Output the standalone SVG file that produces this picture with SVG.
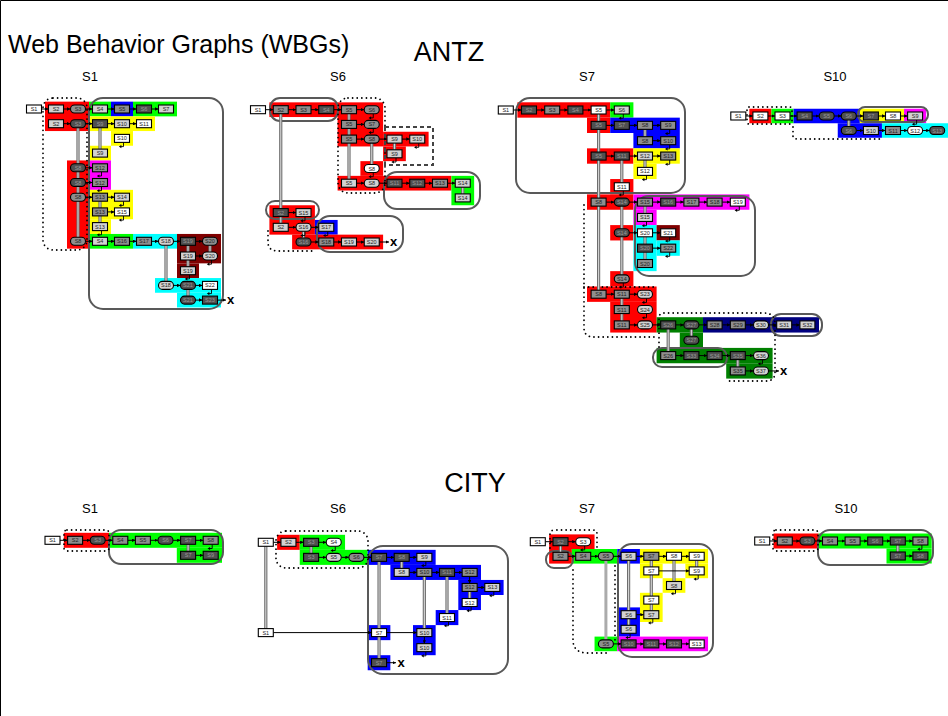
<svg xmlns="http://www.w3.org/2000/svg" width="948" height="716" viewBox="0 0 948 716">
<style>
.n use{stroke:#000;stroke-width:1.1}
.w{fill:#fff}.l{fill:#d2d2d2}.m{fill:#8e8e8e}.d{fill:#505050}
.n text{font-family:'Liberation Sans',Arial,sans-serif;font-size:5.5px;text-anchor:middle;fill:#222}
.n.d text{fill:#9a9a9a}
.e{fill:none;stroke:#000;stroke-width:1;marker-end:url(#ah)}
.v{fill:none;stroke:#6e6e6e;stroke-width:3.2}
.vi{fill:none;stroke:#d6d6d6;stroke-width:1.1}
.o{fill:none;stroke:#595959;stroke-width:2}
.dt{fill:none;stroke:#000;stroke-width:1.8;stroke-dasharray:0.01 4.6;stroke-linecap:round}
.ti{font-family:'Liberation Sans',Arial,sans-serif;fill:#000}
.x{font-family:'Liberation Sans',Arial,sans-serif;font-weight:bold;font-size:13px}
.R{fill:#f00}.G{fill:#0f0}.B{fill:#00f}.Y{fill:#ff0}.M{fill:#f0f}.C{fill:#0ff}.DR{fill:#800000}.DG{fill:#008000}.NV{fill:#000080}
</style>
<defs>
<rect id="b" x="-7.5" y="-4" width="15" height="8"/>
<rect id="e" x="-7.5" y="-4" width="15" height="8" rx="4"/>
<g id="rt"><path d="M1.5 4V8.2H-1" fill="none" stroke="#000" stroke-width="0.9"/><path d="M-3.2 8.2L-0.6 6.6V9.8Z" fill="#000"/></g>
<marker id="ah" viewBox="0 0 6 6" refX="6" refY="3" markerWidth="3.5" markerHeight="3.5" orient="auto" markerUnits="userSpaceOnUse"><path d="M0 0L6 3L0 6Z" fill="#000"/></marker>
</defs>
<rect x="0" y="0" width="948" height="716" fill="#fff"/>
<path d="M0.5 716V0.5H948" fill="none" stroke="#000"/>
<text class="ti" x="8" y="53" font-size="25">Web Behavior Graphs (WBGs)</text>
<text class="ti" x="449" y="61" font-size="27" text-anchor="middle">ANTZ</text>
<text class="ti" x="475" y="492" font-size="27" text-anchor="middle">CITY</text>
<g class="ti" font-size="13" text-anchor="middle">
<text x="90" y="81">S1</text><text x="338" y="81">S6</text><text x="587" y="81">S7</text><text x="835" y="81">S10</text>
<text x="90" y="513">S1</text><text x="338" y="513">S6</text><text x="587" y="513">S7</text><text x="846" y="513">S10</text>
</g>
<g id="backgrounds">
<rect class="R" x="45" y="101.65" width="44" height="29.4"/>
<rect class="R" x="67" y="160.45" width="22" height="88.2"/>
<rect class="G" x="89" y="101.65" width="22" height="14.7"/>
<rect class="B" x="111" y="101.65" width="22" height="14.7"/>
<rect class="G" x="133" y="101.65" width="44" height="14.7"/>
<rect class="Y" x="89" y="116.35" width="66" height="14.7"/>
<rect class="Y" x="111" y="131.05" width="22" height="14.7"/>
<rect class="Y" x="89" y="145.75" width="22" height="14.7"/>
<rect class="M" x="89" y="160.45" width="22" height="29.4"/>
<rect class="Y" x="89" y="189.85" width="44" height="29.4"/>
<rect class="Y" x="89" y="219.25" width="22" height="14.7"/>
<rect class="G" x="89" y="233.95" width="44" height="14.7"/>
<rect class="C" x="133" y="233.95" width="44" height="14.7"/>
<rect class="DR" x="177" y="233.95" width="44" height="29.4"/>
<rect class="DR" x="177" y="263.35" width="22" height="14.7"/>
<rect class="C" x="155" y="278.05" width="66" height="14.7"/>
<rect class="C" x="177" y="292.75" width="44" height="14.7"/>

<rect class="R" x="269.4" y="102.35" width="68.25" height="14.7"/>
<rect class="R" x="337.6" y="102.35" width="45.5" height="44.1"/>
<rect class="R" x="383.1" y="131.75" width="45.5" height="14.7"/>
<rect class="R" x="383.1" y="146.45" width="22.75" height="14.7"/>
<rect class="R" x="360.4" y="161.15" width="22.75" height="14.7"/>
<rect class="R" x="337.6" y="175.85" width="113.75" height="14.7"/>
<rect class="G" x="451.4" y="175.85" width="22.75" height="29.4"/>
<rect class="R" x="269.4" y="205.25" width="45.5" height="29.4"/>
<rect class="B" x="314.9" y="219.95" width="22.75" height="14.7"/>
<rect class="R" x="292.1" y="234.65" width="91" height="14.7"/>

<rect class="R" x="517.4" y="102.3" width="92.8" height="15.35"/>
<rect class="G" x="610.2" y="102.3" width="23.2" height="15.35"/>
<rect class="R" x="587" y="117.65" width="23.2" height="15.35"/>
<rect class="B" x="610.2" y="117.65" width="69.6" height="15.35"/>
<rect class="B" x="633.4" y="133" width="46.4" height="15.35"/>
<rect class="R" x="587" y="148.35" width="46.4" height="15.35"/>
<rect class="Y" x="633.4" y="148.35" width="46.4" height="15.35"/>
<rect class="Y" x="633.4" y="163.7" width="23.2" height="15.35"/>
<rect class="R" x="610.2" y="179.05" width="23.2" height="15.35"/>
<rect class="R" x="587" y="194.4" width="46.4" height="15.35"/>
<rect class="M" x="633.4" y="194.4" width="116" height="15.35"/>
<rect class="M" x="633.4" y="209.75" width="23.2" height="15.35"/>
<rect class="R" x="610.2" y="225.1" width="23.2" height="15.35"/>
<rect class="C" x="633.4" y="225.1" width="23.2" height="46.05"/>
<rect class="DR" x="656.6" y="225.1" width="23.2" height="15.35"/>
<rect class="C" x="656.6" y="240.45" width="23.2" height="15.35"/>
<rect class="R" x="610.2" y="271.15" width="23.2" height="15.35"/>
<rect class="R" x="587" y="286.5" width="69.6" height="15.35"/>
<rect class="R" x="610.2" y="301.85" width="46.4" height="30.7"/>
<rect class="DG" x="656.6" y="317.2" width="46.4" height="15.35"/>
<rect class="NV" x="703" y="317.2" width="116" height="15.35"/>
<rect class="DG" x="679.8" y="332.55" width="23.2" height="15.35"/>
<rect class="DG" x="656.6" y="347.9" width="116" height="15.35"/>
<rect class="DG" x="726.2" y="363.25" width="46.4" height="15.35"/>

<rect class="R" x="749.35" y="108.75" width="22.1" height="14.5"/>
<rect class="G" x="771.45" y="108.75" width="22.1" height="14.5"/>
<rect class="B" x="793.55" y="108.75" width="66.3" height="14.5"/>
<rect class="Y" x="859.85" y="108.75" width="44.2" height="14.5"/>
<rect class="M" x="904.05" y="108.75" width="22.1" height="14.5"/>
<rect class="B" x="837.75" y="123.25" width="44.2" height="14.5"/>
<rect class="C" x="881.95" y="123.25" width="66.05" height="14.5"/>

<rect class="R" x="63.8" y="532.8" width="45.2" height="15"/>
<rect class="G" x="109" y="532.8" width="113" height="15"/>
<rect class="G" x="176.8" y="547.8" width="45.2" height="15"/>

<rect class="R" x="277.1" y="534.8" width="22.65" height="15.05"/>
<rect class="G" x="299.75" y="534.8" width="45.3" height="15.05"/>
<rect class="G" x="299.75" y="549.85" width="67.95" height="15.05"/>
<rect class="B" x="367.7" y="549.85" width="67.95" height="15.05"/>
<rect class="B" x="390.4" y="564.9" width="90.6" height="15.05"/>
<rect class="B" x="458.3" y="579.95" width="45.3" height="15.05"/>
<rect class="B" x="458.3" y="595" width="22.65" height="15.05"/>
<rect class="B" x="435.7" y="610.05" width="22.65" height="15.05"/>
<rect class="B" x="367.7" y="625.1" width="22.65" height="15.05"/>
<rect class="B" x="413" y="625.1" width="22.65" height="30.1"/>
<rect class="B" x="367.7" y="655.2" width="22.65" height="15.05"/>

<rect class="R" x="549.15" y="534.4" width="45.4" height="14.6"/>
<rect class="R" x="549.15" y="549" width="22.7" height="14.6"/>
<rect class="G" x="571.85" y="549" width="45.4" height="14.6"/>
<rect class="B" x="617.25" y="549" width="22.7" height="14.6"/>
<rect class="Y" x="639.95" y="549" width="68.1" height="14.6"/>
<rect class="Y" x="639.95" y="563.6" width="22.7" height="14.6"/>
<rect class="Y" x="685.35" y="563.6" width="22.7" height="14.6"/>
<rect class="Y" x="662.65" y="578.2" width="22.7" height="14.6"/>
<rect class="Y" x="639.95" y="592.8" width="22.7" height="29.2"/>
<rect class="B" x="617.25" y="607.4" width="22.7" height="29.2"/>
<rect class="G" x="594.55" y="636.6" width="22.7" height="14.6"/>
<rect class="M" x="617.25" y="636.6" width="90.8" height="14.6"/>

<rect class="R" x="773.5" y="533.5" width="45.2" height="15"/>
<rect class="G" x="818.7" y="533.5" width="113" height="15"/>
<rect class="G" x="886.5" y="548.5" width="45.2" height="15"/>
</g>
<g id="outlines">
<rect class="o" x="89" y="98" width="134" height="211" rx="14"/>
<rect class="o" x="270" y="98" width="68" height="23" rx="10"/>
<rect class="o" x="266" y="201" width="53" height="18" rx="9"/>
<rect class="o" x="317" y="216" width="86" height="36" rx="13"/>
<rect class="o" x="384" y="172" width="96" height="37" rx="13"/>
<rect class="o" x="516" y="98" width="169" height="95" rx="14"/>
<rect class="o" x="635" y="196" width="120" height="80" rx="14"/>
<rect class="o" x="653" y="348" width="74" height="19" rx="9"/>
<rect class="o" x="771" y="314" width="51" height="22" rx="10"/>
<rect class="o" x="858" y="107" width="70" height="15" rx="7"/>
<rect class="o" x="109" y="530" width="114" height="34" rx="12"/>
<rect class="o" x="368" y="546" width="140" height="128" rx="15"/>
<rect class="o" x="618" y="544" width="95" height="113" rx="14"/>
<rect class="o" x="546" y="551" width="27" height="17" rx="8"/>
<rect class="o" x="818" y="530" width="115" height="35" rx="12"/>
<rect class="dt" x="43" y="98" width="44" height="152" rx="10"/>
<rect class="dt" x="338" y="98" width="47" height="95" rx="10"/>
<rect x="385" y="127" width="48" height="38" fill="none" stroke="#444" stroke-width="2" stroke-dasharray="4 3"/>
<path class="dt" d="M268 231V242Q268 251 278 251H313"/>
<path class="dt" d="M584 205V328Q584 337 594 337H656"/>
<path class="dt" d="M584 287H657"/>
<path class="dt" d="M659 347V318Q659 313 664 313H764Q775 313 775 324V372Q775 381 766 381H727"/>
<rect class="dt" x="747" y="107" width="45" height="17" rx="2"/>
<path class="dt" d="M793 127V136Q793 139 797 139H882"/>
<rect class="dt" x="64" y="530" width="45" height="21" rx="3"/>
<rect class="dt" x="276" y="531" width="92" height="37" rx="10"/>
<path class="dt" d="M550 548V534Q550 530 555 530H593Q597 530 597 534V547"/>
<path class="dt" d="M573 570V640Q573 653 588 653H610"/>
<path class="dt" d="M615 566V640"/>
<rect class="dt" x="773" y="530" width="45" height="21" rx="3"/>
</g>
<g id="connectors">
<path class="v" d="M78 127.7V237.3M100 127.7V149.1M100 201.2V222.6M166 245.3V281.4M188 245.3V266.7M188 289.4V296.1M210 245.3V252M280.75 113.7V208.6M280.75 216.6V223.3M349 113.7V179.2M371.75 143.1V164.5M394.5 143.1V149.8M303.5 231.3V238M462.75 187.2V193.9M598.6 114V290.2M621.8 160V182.8M621.8 206.1V274.9M621.8 298.2V320.9M645 129.4V136.7M645 160V167.4M645 206.1V213.5M645 236.8V259.5M668.2 328.9V351.6M691.4 328.9V336.3M737.8 359.6V367M848.8 120V126.5M188.1 544.3V551.3M265.8 546.3V628.6M311.1 546.3V553.4M401.7 561.4V568.4M379.05 561.4V658.7M424.35 576.4V628.6M447 576.4V613.6M469.65 591.5V598.5M560.5 545.7V552.3M628.6 560.3V610.7M628.6 618.7V625.3M651.3 560.3V596.1M651.3 604.1V610.7M674 560.3V581.5M696.7 560.3V566.9M897.8 545V552"/>
<path class="vi" d="M78 127.7V237.3M100 127.7V149.1M100 201.2V222.6M166 245.3V281.4M188 245.3V266.7M188 289.4V296.1M210 245.3V252M280.75 113.7V208.6M280.75 216.6V223.3M349 113.7V179.2M371.75 143.1V164.5M394.5 143.1V149.8M303.5 231.3V238M462.75 187.2V193.9M598.6 114V290.2M621.8 160V182.8M621.8 206.1V274.9M621.8 298.2V320.9M645 129.4V136.7M645 160V167.4M645 206.1V213.5M645 236.8V259.5M668.2 328.9V351.6M691.4 328.9V336.3M737.8 359.6V367M848.8 120V126.5M188.1 544.3V551.3M265.8 546.3V628.6M311.1 546.3V553.4M401.7 561.4V568.4M379.05 561.4V658.7M424.35 576.4V628.6M447 576.4V613.6M469.65 591.5V598.5M560.5 545.7V552.3M628.6 560.3V610.7M628.6 618.7V625.3M651.3 560.3V596.1M651.3 604.1V610.7M674 560.3V581.5M696.7 560.3V566.9M897.8 545V552"/>
<path d="M605.9 560.3V639.9" fill="none" stroke="#ababab" stroke-width="3"/>
<path class="e" d="M41.5 109H48.5"/><path class="e" d="M63.5 109H70.5"/><path class="e" d="M85.5 109H92.5"/><path class="e" d="M107.5 109H114.5"/><path class="e" d="M129.5 109H136.5"/><path class="e" d="M151.5 109H158.5"/>
<path class="e" d="M63.5 123.7H70.5"/><path class="e" d="M85.5 123.7H92.5"/><path class="e" d="M107.5 123.7H114.5"/><path class="e" d="M129.5 123.7H136.5"/>
<path class="e" d="M85.5 167.8H92.5"/><path class="e" d="M85.5 182.5H92.5"/><path class="e" d="M85.5 197.2H92.5"/><path class="e" d="M107.5 197.2H114.5"/><path class="e" d="M107.5 211.9H114.5"/>
<path class="e" d="M85.5 241.3H92.5"/><path class="e" d="M107.5 241.3H114.5"/><path class="e" d="M129.5 241.3H136.5"/><path class="e" d="M151.5 241.3H158.5"/><path class="e" d="M173.5 241.3H180.5"/><path class="e" d="M195.5 241.3H202.5"/>
<path class="e" d="M195.5 256H202.5"/><path class="e" d="M173.5 285.4H180.5"/><path class="e" d="M195.5 285.4H202.5"/><path class="e" d="M195.5 300.1H202.5"/><path class="e" d="M217.5 300.1H226"/>
<path class="e" d="M265.5 109.7H273.25"/><path class="e" d="M288.25 109.7H296"/><path class="e" d="M311 109.7H318.75"/><path class="e" d="M333.75 109.7H341.5"/><path class="e" d="M356.5 109.7H364.25"/>
<path class="e" d="M356.5 124.4H364.25"/><path class="e" d="M356.5 139.1H364.25"/><path class="e" d="M379.25 139.1H387"/><path class="e" d="M402 139.1H409.75"/>
<path class="e" d="M356.5 183.2H364.25"/><path class="e" d="M379.25 183.2H387"/><path class="e" d="M402 183.2H409.75"/><path class="e" d="M424.75 183.2H432.5"/><path class="e" d="M447.5 183.2H455.25"/>
<path class="e" d="M288.25 212.6H296"/><path class="e" d="M288.25 227.3H296"/><path class="e" d="M311 227.3H318.75"/>
<path class="e" d="M311 242H318.75"/><path class="e" d="M333.75 242H341.5"/><path class="e" d="M356.5 242H364.25"/><path class="e" d="M379.25 242H389"/>
<path class="e" d="M513.3 110H521.5"/><path class="e" d="M536.5 110H544.7"/><path class="e" d="M559.7 110H567.9"/><path class="e" d="M582.9 110H591.1"/><path class="e" d="M606.1 110H614.3"/>
<path class="e" d="M606.1 125.35H614.3"/><path class="e" d="M629.3 125.35H637.5"/><path class="e" d="M652.5 125.35H660.7"/><path class="e" d="M652.5 140.7H660.7"/>
<path class="e" d="M606.1 156.05H614.3"/><path class="e" d="M629.3 156.05H637.5"/><path class="e" d="M652.5 156.05H660.7"/>
<path class="e" d="M606.1 202.1H614.3"/><path class="e" d="M629.3 202.1H637.5"/><path class="e" d="M652.5 202.1H660.7"/><path class="e" d="M675.7 202.1H683.9"/><path class="e" d="M698.9 202.1H707.1"/><path class="e" d="M722.1 202.1H730.3"/>
<path class="e" d="M629.3 232.8H637.5"/><path class="e" d="M652.5 232.8H660.7"/><path class="e" d="M652.5 248.15H660.7"/>
<path class="e" d="M606.1 294.2H614.3"/><path class="e" d="M629.3 294.2H637.5"/>
<path class="e" d="M629.3 324.9H637.5"/><path class="e" d="M652.5 324.9H660.7"/><path class="e" d="M675.7 324.9H683.9"/><path class="e" d="M698.9 324.9H707.1"/><path class="e" d="M722.1 324.9H730.3"/><path class="e" d="M745.3 324.9H753.5"/><path class="e" d="M768.5 324.9H776.7"/><path class="e" d="M791.7 324.9H799.9"/>
<path class="e" d="M675.7 355.6H683.9"/><path class="e" d="M698.9 355.6H707.1"/><path class="e" d="M722.1 355.6H730.3"/><path class="e" d="M745.3 355.6H753.5"/>
<path class="e" d="M745.3 370.95H753.5"/><path class="e" d="M768.5 370.95H779"/>
<path class="e" d="M745.8 116H752.9"/><path class="e" d="M767.9 116H775"/><path class="e" d="M790 116H797.1"/><path class="e" d="M812.1 116H819.2"/><path class="e" d="M834.2 116H841.3"/><path class="e" d="M856.3 116H863.4"/><path class="e" d="M878.4 116H885.5"/><path class="e" d="M900.5 116H907.6"/>
<path class="e" d="M856.3 130.5H863.4"/><path class="e" d="M878.4 130.5H885.5"/><path class="e" d="M900.5 130.5H907.6"/><path class="e" d="M922.6 130.5H929.7"/>
<path class="e" d="M60 540.3H67.6"/><path class="e" d="M82.6 540.3H90.2"/><path class="e" d="M105.2 540.3H112.8"/><path class="e" d="M127.8 540.3H135.4"/><path class="e" d="M150.4 540.3H158"/><path class="e" d="M173 540.3H180.6"/><path class="e" d="M195.6 540.3H203.2"/><path class="e" d="M195.6 555.3H203.2"/>
<path class="e" d="M273.3 542.3H280.95"/><path class="e" d="M295.95 542.3H303.6"/><path class="e" d="M318.6 542.3H326.25"/>
<path class="e" d="M318.6 557.35H326.25"/><path class="e" d="M341.25 557.35H348.9"/><path class="e" d="M363.9 557.35H371.55"/><path class="e" d="M386.55 557.35H394.2"/><path class="e" d="M409.2 557.35H416.85"/>
<path class="e" d="M409.2 572.4H416.85"/><path class="e" d="M431.85 572.4H439.5"/><path class="e" d="M454.5 572.4H462.15"/><path class="e" d="M477.15 587.45H484.8"/>
<path class="e" d="M273.3 632.6H371.55"/><path class="e" d="M386.55 632.6H416.85"/><path class="e" d="M386.55 662.7H396"/>
<path class="e" d="M469.65 576.4V583.45"/><path class="e" d="M424.35 636.6V643.65"/>
<path class="e" d="M545.3 541.7H553"/><path class="e" d="M568 541.7H575.7"/>
<path class="e" d="M568 556.3H575.7"/><path class="e" d="M590.7 556.3H598.4"/><path class="e" d="M613.4 556.3H621.1"/><path class="e" d="M636.1 556.3H643.8"/><path class="e" d="M658.8 556.3H666.5"/><path class="e" d="M681.5 556.3H689.2"/>
<path class="e" d="M658.8 570.9H689.2"/><path class="e" d="M636.1 614.7H643.8"/>
<path class="e" d="M613.4 643.9H621.1"/><path class="e" d="M636.1 643.9H643.8"/><path class="e" d="M658.8 643.9H666.5"/><path class="e" d="M681.5 643.9H689.2"/>
<path class="e" d="M769.7 541H777.3"/><path class="e" d="M792.3 541H799.9"/><path class="e" d="M814.9 541H822.5"/><path class="e" d="M837.5 541H845.1"/><path class="e" d="M860.1 541H867.7"/><path class="e" d="M882.7 541H890.3"/><path class="e" d="M905.3 541H912.9"/><path class="e" d="M905.3 556H912.9"/>
<use href="#rt" x="122" y="138.4"/><use href="#rt" x="100" y="167.8"/><use href="#rt" x="100" y="182.5"/><use href="#rt" x="122" y="197.2"/><use href="#rt" x="122" y="211.9"/><use href="#rt" x="100" y="226.6"/><use href="#rt" x="210" y="256"/><use href="#rt" x="188" y="270.7"/><use href="#rt" x="210" y="285.4"/>
<use href="#rt" x="371.75" y="109.7"/><use href="#rt" x="371.75" y="124.4"/><use href="#rt" x="417.25" y="139.1"/><use href="#rt" x="394.5" y="153.8"/><use href="#rt" x="371.75" y="168.5"/><use href="#rt" x="303.5" y="212.6"/><use href="#rt" x="303.5" y="227.3"/><use href="#rt" x="326.25" y="227.3"/>
<use href="#rt" x="621.8" y="110"/><use href="#rt" x="668.2" y="125.35"/><use href="#rt" x="668.2" y="140.7"/><use href="#rt" x="668.2" y="156.05"/><use href="#rt" x="645" y="171.4"/><use href="#rt" x="621.8" y="186.75"/><use href="#rt" x="737.8" y="202.1"/><use href="#rt" x="645" y="217.45"/><use href="#rt" x="668.2" y="232.8"/><use href="#rt" x="668.2" y="248.15"/><use href="#rt" x="621.8" y="278.85"/><use href="#rt" x="645" y="294.2"/><use href="#rt" x="645" y="309.55"/><use href="#rt" x="761" y="355.6"/>
<use href="#rt" x="915.1" y="116"/><use href="#rt" x="210.7" y="540.3"/>
<use href="#rt" x="333.75" y="542.3"/><use href="#rt" x="424.35" y="557.35"/><use href="#rt" x="492.3" y="587.45"/><use href="#rt" x="469.65" y="602.5"/><use href="#rt" x="447" y="617.55"/><use href="#rt" x="424.35" y="647.65"/>
<use href="#rt" x="583.2" y="541.7"/><use href="#rt" x="696.7" y="570.9"/><use href="#rt" x="674" y="585.5"/><use href="#rt" x="651.3" y="614.7"/><use href="#rt" x="628.6" y="629.3"/><use href="#rt" x="920.4" y="541"/>
</g>
<g class="x"><text x="227" y="304">x</text><text x="390" y="246">x</text><text x="780" y="375">x</text><text x="397.5" y="666.5">x</text></g>
<g id="antz-s1">
<g id="a0s1" class="n w" transform="translate(34 109)"><use href="#b"/><text y="2">S1</text></g>
<g id="a0s2" class="n l" transform="translate(56 109)"><use href="#b"/><text y="2">S2</text></g>
<g id="a0s3" class="n m" transform="translate(78 109)"><use href="#e"/><text y="2">S3</text></g>
<g id="a0s4" class="n l" transform="translate(100 109)"><use href="#b"/><text y="2">S4</text></g>
<g id="a0s5" class="n m" transform="translate(122 109)"><use href="#b"/><text y="2">S5</text></g>
<g id="a0s6" class="n d" transform="translate(144 109)"><use href="#b"/><text y="2">S6</text></g>
<g id="a0s7" class="n l" transform="translate(166 109)"><use href="#b"/><text y="2">S7</text></g>
<g id="a1s2" class="n l" transform="translate(56 123.7)"><use href="#b"/><text y="2">S2</text></g>
<g id="a1s3" class="n d" transform="translate(78 123.7)"><use href="#e"/><text y="2">S3</text></g>
<g id="a1s9" class="n d" transform="translate(100 123.7)"><use href="#b"/><text y="2">S9</text></g>
<g id="a1s10" class="n l" transform="translate(122 123.7)"><use href="#b"/><text y="2">S10</text></g>
<g id="a1s11" class="n w" transform="translate(144 123.7)"><use href="#b"/><text y="2">S11</text></g>
<g id="a2s10" class="n w" transform="translate(122 138.4)"><use href="#b"/><text y="2">S10</text></g>
<g id="a3s9" class="n l" transform="translate(100 153.1)"><use href="#b"/><text y="2">S9</text></g>
<g id="a4s8" class="n d" transform="translate(78 167.8)"><use href="#e"/><text y="2">S8</text></g>
<g id="a4s12" class="n m" transform="translate(100 167.8)"><use href="#b"/><text y="2">S12</text></g>
<g id="a5s8" class="n d" transform="translate(78 182.5)"><use href="#e"/><text y="2">S8</text></g>
<g id="a5s12" class="n m" transform="translate(100 182.5)"><use href="#b"/><text y="2">S12</text></g>
<g id="a6s8" class="n m" transform="translate(78 197.2)"><use href="#e"/><text y="2">S8</text></g>
<g id="a6s13" class="n m" transform="translate(100 197.2)"><use href="#b"/><text y="2">S13</text></g>
<g id="a6s14" class="n l" transform="translate(122 197.2)"><use href="#b"/><text y="2">S14</text></g>
<g id="a7s13" class="n m" transform="translate(100 211.9)"><use href="#b"/><text y="2">S13</text></g>
<g id="a7s15" class="n w" transform="translate(122 211.9)"><use href="#b"/><text y="2">S15</text></g>
<g id="a8s13" class="n l" transform="translate(100 226.6)"><use href="#b"/><text y="2">S13</text></g>
<g id="a9s8" class="n m" transform="translate(78 241.3)"><use href="#e"/><text y="2">S8</text></g>
<g id="a9s4" class="n l" transform="translate(100 241.3)"><use href="#b"/><text y="2">S4</text></g>
<g id="a9s16" class="n m" transform="translate(122 241.3)"><use href="#b"/><text y="2">S16</text></g>
<g id="a9s17" class="n m" transform="translate(144 241.3)"><use href="#b"/><text y="2">S17</text></g>
<g id="a9s18" class="n l" transform="translate(166 241.3)"><use href="#e"/><text y="2">S18</text></g>
<g id="a9s19" class="n d" transform="translate(188 241.3)"><use href="#b"/><text y="2">S19</text></g>
<g id="a9s20" class="n m" transform="translate(210 241.3)"><use href="#e"/><text y="2">S20</text></g>
<g id="a10s19" class="n l" transform="translate(188 256)"><use href="#b"/><text y="2">S19</text></g>
<g id="a10s20" class="n l" transform="translate(210 256)"><use href="#e"/><text y="2">S20</text></g>
<g id="a11s19" class="n l" transform="translate(188 270.7)"><use href="#b"/><text y="2">S19</text></g>
<g id="a12s18" class="n l" transform="translate(166 285.4)"><use href="#e"/><text y="2">S18</text></g>
<g id="a12s21" class="n d" transform="translate(188 285.4)"><use href="#e"/><text y="2">S21</text></g>
<g id="a12s22" class="n w" transform="translate(210 285.4)"><use href="#b"/><text y="2">S22</text></g>
<g id="a13s21" class="n d" transform="translate(188 300.1)"><use href="#e"/><text y="2">S21</text></g>
<g id="a13s23" class="n d" transform="translate(210 300.1)"><use href="#b"/><text y="2">S23</text></g>
</g>
<g id="antz-s6">
<g id="b0s1" class="n w" transform="translate(258 109.7)"><use href="#b"/><text y="2">S1</text></g>
<g id="b0s2" class="n m" transform="translate(280.75 109.7)"><use href="#b"/><text y="2">S2</text></g>
<g id="b0s3" class="n m" transform="translate(303.5 109.7)"><use href="#b"/><text y="2">S3</text></g>
<g id="b0s4" class="n d" transform="translate(326.25 109.7)"><use href="#b"/><text y="2">S4</text></g>
<g id="b0s5" class="n m" transform="translate(349 109.7)"><use href="#b"/><text y="2">S5</text></g>
<g id="b0s6" class="n m" transform="translate(371.75 109.7)"><use href="#e"/><text y="2">S6</text></g>
<g id="b1s5" class="n m" transform="translate(349 124.4)"><use href="#b"/><text y="2">S5</text></g>
<g id="b1s7" class="n m" transform="translate(371.75 124.4)"><use href="#e"/><text y="2">S7</text></g>
<g id="b2s5" class="n m" transform="translate(349 139.1)"><use href="#b"/><text y="2">S5</text></g>
<g id="b2s8" class="n m" transform="translate(371.75 139.1)"><use href="#e"/><text y="2">S8</text></g>
<g id="b2s9" class="n l" transform="translate(394.5 139.1)"><use href="#b"/><text y="2">S9</text></g>
<g id="b2s10" class="n l" transform="translate(417.25 139.1)"><use href="#b"/><text y="2">S10</text></g>
<g id="b3s9" class="n l" transform="translate(394.5 153.8)"><use href="#b"/><text y="2">S9</text></g>
<g id="b4s8" class="n w" transform="translate(371.75 168.5)"><use href="#e"/><text y="2">S8</text></g>
<g id="b5s5" class="n l" transform="translate(349 183.2)"><use href="#b"/><text y="2">S5</text></g>
<g id="b5s8" class="n l" transform="translate(371.75 183.2)"><use href="#e"/><text y="2">S8</text></g>
<g id="b5s11" class="n d" transform="translate(394.5 183.2)"><use href="#b"/><text y="2">S11</text></g>
<g id="b5s12" class="n d" transform="translate(417.25 183.2)"><use href="#b"/><text y="2">S12</text></g>
<g id="b5s13" class="n m" transform="translate(440 183.2)"><use href="#b"/><text y="2">S13</text></g>
<g id="b5s14" class="n l" transform="translate(462.75 183.2)"><use href="#b"/><text y="2">S14</text></g>
<g id="b6s14" class="n l" transform="translate(462.75 197.9)"><use href="#b"/><text y="2">S14</text></g>
<g id="b7s2" class="n d" transform="translate(280.75 212.6)"><use href="#b"/><text y="2">S2</text></g>
<g id="b7s15" class="n l" transform="translate(303.5 212.6)"><use href="#b"/><text y="2">S15</text></g>
<g id="b8s2" class="n l" transform="translate(280.75 227.3)"><use href="#b"/><text y="2">S2</text></g>
<g id="b8s16" class="n l" transform="translate(303.5 227.3)"><use href="#e"/><text y="2">S16</text></g>
<g id="b8s17" class="n l" transform="translate(326.25 227.3)"><use href="#b"/><text y="2">S17</text></g>
<g id="b9s16" class="n d" transform="translate(303.5 242)"><use href="#e"/><text y="2">S16</text></g>
<g id="b9s18" class="n m" transform="translate(326.25 242)"><use href="#b"/><text y="2">S18</text></g>
<g id="b9s19" class="n l" transform="translate(349 242)"><use href="#b"/><text y="2">S19</text></g>
<g id="b9s20" class="n l" transform="translate(371.75 242)"><use href="#b"/><text y="2">S20</text></g>
</g>
<g id="antz-s7">
<g id="c0s1" class="n w" transform="translate(505.8 110)"><use href="#b"/><text y="2">S1</text></g>
<g id="c0s2" class="n d" transform="translate(529 110)"><use href="#b"/><text y="2">S2</text></g>
<g id="c0s3" class="n m" transform="translate(552.2 110)"><use href="#b"/><text y="2">S3</text></g>
<g id="c0s4" class="n d" transform="translate(575.4 110)"><use href="#b"/><text y="2">S4</text></g>
<g id="c0s5" class="n w" transform="translate(598.6 110)"><use href="#b"/><text y="2">S5</text></g>
<g id="c0s6" class="n l" transform="translate(621.8 110)"><use href="#b"/><text y="2">S6</text></g>
<g id="c1s5" class="n d" transform="translate(598.6 125.35)"><use href="#b"/><text y="2">S5</text></g>
<g id="c1s7" class="n d" transform="translate(621.8 125.35)"><use href="#b"/><text y="2">S7</text></g>
<g id="c1s8" class="n m" transform="translate(645 125.35)"><use href="#b"/><text y="2">S8</text></g>
<g id="c1s9" class="n m" transform="translate(668.2 125.35)"><use href="#b"/><text y="2">S9</text></g>
<g id="c2s8" class="n m" transform="translate(645 140.7)"><use href="#b"/><text y="2">S8</text></g>
<g id="c2s10" class="n m" transform="translate(668.2 140.7)"><use href="#b"/><text y="2">S10</text></g>
<g id="c3s5" class="n d" transform="translate(598.6 156.05)"><use href="#b"/><text y="2">S5</text></g>
<g id="c3s11" class="n d" transform="translate(621.8 156.05)"><use href="#b"/><text y="2">S11</text></g>
<g id="c3s12" class="n l" transform="translate(645 156.05)"><use href="#b"/><text y="2">S12</text></g>
<g id="c3s13" class="n m" transform="translate(668.2 156.05)"><use href="#b"/><text y="2">S13</text></g>
<g id="c4s12" class="n w" transform="translate(645 171.4)"><use href="#b"/><text y="2">S12</text></g>
<g id="c5s11" class="n w" transform="translate(621.8 186.75)"><use href="#b"/><text y="2">S11</text></g>
<g id="c6s8" class="n m" transform="translate(598.6 202.1)"><use href="#b"/><text y="2">S8</text></g>
<g id="c6s14" class="n d" transform="translate(621.8 202.1)"><use href="#e"/><text y="2">S14</text></g>
<g id="c6s15" class="n m" transform="translate(645 202.1)"><use href="#b"/><text y="2">S15</text></g>
<g id="c6s16" class="n d" transform="translate(668.2 202.1)"><use href="#b"/><text y="2">S16</text></g>
<g id="c6s17" class="n m" transform="translate(691.4 202.1)"><use href="#b"/><text y="2">S17</text></g>
<g id="c6s18" class="n m" transform="translate(714.6 202.1)"><use href="#b"/><text y="2">S18</text></g>
<g id="c6s19" class="n w" transform="translate(737.8 202.1)"><use href="#b"/><text y="2">S19</text></g>
<g id="c7s15" class="n l" transform="translate(645 217.45)"><use href="#b"/><text y="2">S15</text></g>
<g id="c8s14" class="n d" transform="translate(621.8 232.8)"><use href="#e"/><text y="2">S14</text></g>
<g id="c8s20" class="n w" transform="translate(645 232.8)"><use href="#b"/><text y="2">S20</text></g>
<g id="c8s21" class="n w" transform="translate(668.2 232.8)"><use href="#b"/><text y="2">S21</text></g>
<g id="c9s20" class="n d" transform="translate(645 248.15)"><use href="#b"/><text y="2">S20</text></g>
<g id="c9s22" class="n m" transform="translate(668.2 248.15)"><use href="#b"/><text y="2">S22</text></g>
<g id="c10s20" class="n m" transform="translate(645 263.5)"><use href="#b"/><text y="2">S20</text></g>
<g id="c11s14" class="n m" transform="translate(621.8 278.85)"><use href="#e"/><text y="2">S14</text></g>
<g id="c12s8" class="n m" transform="translate(598.6 294.2)"><use href="#b"/><text y="2">S8</text></g>
<g id="c12s11" class="n m" transform="translate(621.8 294.2)"><use href="#b"/><text y="2">S11</text></g>
<g id="c12s23" class="n l" transform="translate(645 294.2)"><use href="#e"/><text y="2">S23</text></g>
<g id="c13s11" class="n m" transform="translate(621.8 309.55)"><use href="#b"/><text y="2">S11</text></g>
<g id="c13s24" class="n l" transform="translate(645 309.55)"><use href="#e"/><text y="2">S24</text></g>
<g id="c14s11" class="n m" transform="translate(621.8 324.9)"><use href="#b"/><text y="2">S11</text></g>
<g id="c14s25" class="n l" transform="translate(645 324.9)"><use href="#e"/><text y="2">S25</text></g>
<g id="c14s26" class="n d" transform="translate(668.2 324.9)"><use href="#b"/><text y="2">S26</text></g>
<g id="c14s27" class="n d" transform="translate(691.4 324.9)"><use href="#e"/><text y="2">S27</text></g>
<g id="c14s28" class="n m" transform="translate(714.6 324.9)"><use href="#b"/><text y="2">S28</text></g>
<g id="c14s29" class="n m" transform="translate(737.8 324.9)"><use href="#b"/><text y="2">S29</text></g>
<g id="c14s30" class="n l" transform="translate(761 324.9)"><use href="#e"/><text y="2">S30</text></g>
<g id="c14s31" class="n l" transform="translate(784.2 324.9)"><use href="#b"/><text y="2">S31</text></g>
<g id="c14s32" class="n l" transform="translate(807.4 324.9)"><use href="#b"/><text y="2">S32</text></g>
<g id="c15s27" class="n d" transform="translate(691.4 340.25)"><use href="#e"/><text y="2">S27</text></g>
<g id="c16s26" class="n m" transform="translate(668.2 355.6)"><use href="#b"/><text y="2">S26</text></g>
<g id="c16s33" class="n d" transform="translate(691.4 355.6)"><use href="#b"/><text y="2">S33</text></g>
<g id="c16s34" class="n d" transform="translate(714.6 355.6)"><use href="#b"/><text y="2">S34</text></g>
<g id="c16s35" class="n d" transform="translate(737.8 355.6)"><use href="#b"/><text y="2">S35</text></g>
<g id="c16s36" class="n l" transform="translate(761 355.6)"><use href="#e"/><text y="2">S36</text></g>
<g id="c17s35" class="n m" transform="translate(737.8 370.95)"><use href="#b"/><text y="2">S35</text></g>
<g id="c17s37" class="n l" transform="translate(761 370.95)"><use href="#e"/><text y="2">S37</text></g>
</g>
<g id="antz-s10">
<g id="d0s1" class="n w" transform="translate(738.3 116)"><use href="#b"/><text y="2">S1</text></g>
<g id="d0s2" class="n w" transform="translate(760.4 116)"><use href="#b"/><text y="2">S2</text></g>
<g id="d0s3" class="n w" transform="translate(782.5 116)"><use href="#b"/><text y="2">S3</text></g>
<g id="d0s4" class="n d" transform="translate(804.6 116)"><use href="#b"/><text y="2">S4</text></g>
<g id="d0s5" class="n d" transform="translate(826.7 116)"><use href="#e"/><text y="2">S5</text></g>
<g id="d0s6" class="n d" transform="translate(848.8 116)"><use href="#e"/><text y="2">S6</text></g>
<g id="d0s7" class="n d" transform="translate(870.9 116)"><use href="#b"/><text y="2">S7</text></g>
<g id="d0s8" class="n w" transform="translate(893 116)"><use href="#b"/><text y="2">S8</text></g>
<g id="d0s9" class="n l" transform="translate(915.1 116)"><use href="#b"/><text y="2">S9</text></g>
<g id="d1s6" class="n d" transform="translate(848.8 130.5)"><use href="#e"/><text y="2">S6</text></g>
<g id="d1s10" class="n l" transform="translate(870.9 130.5)"><use href="#b"/><text y="2">S10</text></g>
<g id="d1s11" class="n m" transform="translate(893 130.5)"><use href="#b"/><text y="2">S11</text></g>
<g id="d1s12" class="n w" transform="translate(915.1 130.5)"><use href="#e"/><text y="2">S12</text></g>
<g id="d1s13" class="n d" transform="translate(937.2 130.5)"><use href="#e"/><text y="2">S13</text></g>
</g>
<g id="city-s1">
<g id="e0s1" class="n w" transform="translate(52.5 540.3)"><use href="#b"/><text y="2">S1</text></g>
<g id="e0s2" class="n m" transform="translate(75.1 540.3)"><use href="#b"/><text y="2">S2</text></g>
<g id="e0s3" class="n d" transform="translate(97.7 540.3)"><use href="#e"/><text y="2">S3</text></g>
<g id="e0s4" class="n m" transform="translate(120.3 540.3)"><use href="#b"/><text y="2">S4</text></g>
<g id="e0s5" class="n m" transform="translate(142.9 540.3)"><use href="#b"/><text y="2">S5</text></g>
<g id="e0s6" class="n d" transform="translate(165.5 540.3)"><use href="#e"/><text y="2">S6</text></g>
<g id="e0s7" class="n d" transform="translate(188.1 540.3)"><use href="#b"/><text y="2">S7</text></g>
<g id="e0s8" class="n m" transform="translate(210.7 540.3)"><use href="#b"/><text y="2">S8</text></g>
<g id="e1s7" class="n d" transform="translate(188.1 555.3)"><use href="#b"/><text y="2">S7</text></g>
<g id="e1s9" class="n d" transform="translate(210.7 555.3)"><use href="#b"/><text y="2">S9</text></g>
</g>
<g id="city-s6">
<g id="f0s1" class="n w" transform="translate(265.8 542.3)"><use href="#b"/><text y="2">S1</text></g>
<g id="f0s2" class="n l" transform="translate(288.45 542.3)"><use href="#b"/><text y="2">S2</text></g>
<g id="f0s3" class="n d" transform="translate(311.1 542.3)"><use href="#b"/><text y="2">S3</text></g>
<g id="f0s4" class="n w" transform="translate(333.75 542.3)"><use href="#e"/><text y="2">S4</text></g>
<g id="f1s3" class="n d" transform="translate(311.1 557.35)"><use href="#b"/><text y="2">S3</text></g>
<g id="f1s5" class="n l" transform="translate(333.75 557.35)"><use href="#e"/><text y="2">S5</text></g>
<g id="f1s6" class="n m" transform="translate(356.4 557.35)"><use href="#e"/><text y="2">S6</text></g>
<g id="f1s7" class="n d" transform="translate(379.05 557.35)"><use href="#b"/><text y="2">S7</text></g>
<g id="f1s8" class="n d" transform="translate(401.7 557.35)"><use href="#b"/><text y="2">S8</text></g>
<g id="f1s9" class="n l" transform="translate(424.35 557.35)"><use href="#b"/><text y="2">S9</text></g>
<g id="f2s8" class="n l" transform="translate(401.7 572.4)"><use href="#b"/><text y="2">S8</text></g>
<g id="f2s10" class="n m" transform="translate(424.35 572.4)"><use href="#b"/><text y="2">S10</text></g>
<g id="f2s11" class="n d" transform="translate(447 572.4)"><use href="#b"/><text y="2">S11</text></g>
<g id="f2s12" class="n m" transform="translate(469.65 572.4)"><use href="#b"/><text y="2">S12</text></g>
<g id="f3s12" class="n m" transform="translate(469.65 587.45)"><use href="#b"/><text y="2">S12</text></g>
<g id="f3s13" class="n l" transform="translate(492.3 587.45)"><use href="#b"/><text y="2">S13</text></g>
<g id="f4s12" class="n w" transform="translate(469.65 602.5)"><use href="#b"/><text y="2">S12</text></g>
<g id="f5s11" class="n w" transform="translate(447 617.55)"><use href="#b"/><text y="2">S11</text></g>
<g id="f6s1" class="n w" transform="translate(265.8 632.6)"><use href="#b"/><text y="2">S1</text></g>
<g id="f6s7" class="n w" transform="translate(379.05 632.6)"><use href="#b"/><text y="2">S7</text></g>
<g id="f6s10" class="n l" transform="translate(424.35 632.6)"><use href="#b"/><text y="2">S10</text></g>
<g id="f7s10" class="n l" transform="translate(424.35 647.65)"><use href="#b"/><text y="2">S10</text></g>
<g id="f8s7" class="n d" transform="translate(379.05 662.7)"><use href="#b"/><text y="2">S7</text></g>
</g>
<g id="city-s7">
<g id="g0s1" class="n w" transform="translate(537.8 541.7)"><use href="#b"/><text y="2">S1</text></g>
<g id="g0s2" class="n d" transform="translate(560.5 541.7)"><use href="#b"/><text y="2">S2</text></g>
<g id="g0s3" class="n w" transform="translate(583.2 541.7)"><use href="#e"/><text y="2">S3</text></g>
<g id="g1s2" class="n m" transform="translate(560.5 556.3)"><use href="#b"/><text y="2">S2</text></g>
<g id="g1s4" class="n m" transform="translate(583.2 556.3)"><use href="#b"/><text y="2">S4</text></g>
<g id="g1s5" class="n m" transform="translate(605.9 556.3)"><use href="#e"/><text y="2">S5</text></g>
<g id="g1s6" class="n l" transform="translate(628.6 556.3)"><use href="#b"/><text y="2">S6</text></g>
<g id="g1s7" class="n m" transform="translate(651.3 556.3)"><use href="#b"/><text y="2">S7</text></g>
<g id="g1s8" class="n w" transform="translate(674 556.3)"><use href="#b"/><text y="2">S8</text></g>
<g id="g1s9" class="n w" transform="translate(696.7 556.3)"><use href="#b"/><text y="2">S9</text></g>
<g id="g2s7" class="n w" transform="translate(651.3 570.9)"><use href="#b"/><text y="2">S7</text></g>
<g id="g2s9" class="n w" transform="translate(696.7 570.9)"><use href="#b"/><text y="2">S9</text></g>
<g id="g3s8" class="n l" transform="translate(674 585.5)"><use href="#b"/><text y="2">S8</text></g>
<g id="g4s7" class="n w" transform="translate(651.3 600.1)"><use href="#b"/><text y="2">S7</text></g>
<g id="g5s6" class="n l" transform="translate(628.6 614.7)"><use href="#b"/><text y="2">S6</text></g>
<g id="g5s7" class="n l" transform="translate(651.3 614.7)"><use href="#b"/><text y="2">S7</text></g>
<g id="g6s6" class="n l" transform="translate(628.6 629.3)"><use href="#b"/><text y="2">S6</text></g>
<g id="g7s5" class="n m" transform="translate(605.9 643.9)"><use href="#e"/><text y="2">S5</text></g>
<g id="g7s10" class="n d" transform="translate(628.6 643.9)"><use href="#b"/><text y="2">S10</text></g>
<g id="g7s11" class="n d" transform="translate(651.3 643.9)"><use href="#b"/><text y="2">S11</text></g>
<g id="g7s12" class="n d" transform="translate(674 643.9)"><use href="#b"/><text y="2">S12</text></g>
<g id="g7s13" class="n w" transform="translate(696.7 643.9)"><use href="#b"/><text y="2">S13</text></g>
</g>
<g id="city-s10">
<g id="h0s1" class="n w" transform="translate(762.2 541)"><use href="#b"/><text y="2">S1</text></g>
<g id="h0s2" class="n m" transform="translate(784.8 541)"><use href="#b"/><text y="2">S2</text></g>
<g id="h0s3" class="n d" transform="translate(807.4 541)"><use href="#e"/><text y="2">S3</text></g>
<g id="h0s4" class="n m" transform="translate(830 541)"><use href="#b"/><text y="2">S4</text></g>
<g id="h0s5" class="n m" transform="translate(852.6 541)"><use href="#b"/><text y="2">S5</text></g>
<g id="h0s6" class="n d" transform="translate(875.2 541)"><use href="#b"/><text y="2">S6</text></g>
<g id="h0s7" class="n d" transform="translate(897.8 541)"><use href="#b"/><text y="2">S7</text></g>
<g id="h0s8" class="n m" transform="translate(920.4 541)"><use href="#b"/><text y="2">S8</text></g>
<g id="h1s7" class="n d" transform="translate(897.8 556)"><use href="#b"/><text y="2">S7</text></g>
<g id="h1s8" class="n d" transform="translate(920.4 556)"><use href="#b"/><text y="2">S8</text></g>
</g>
</svg>
